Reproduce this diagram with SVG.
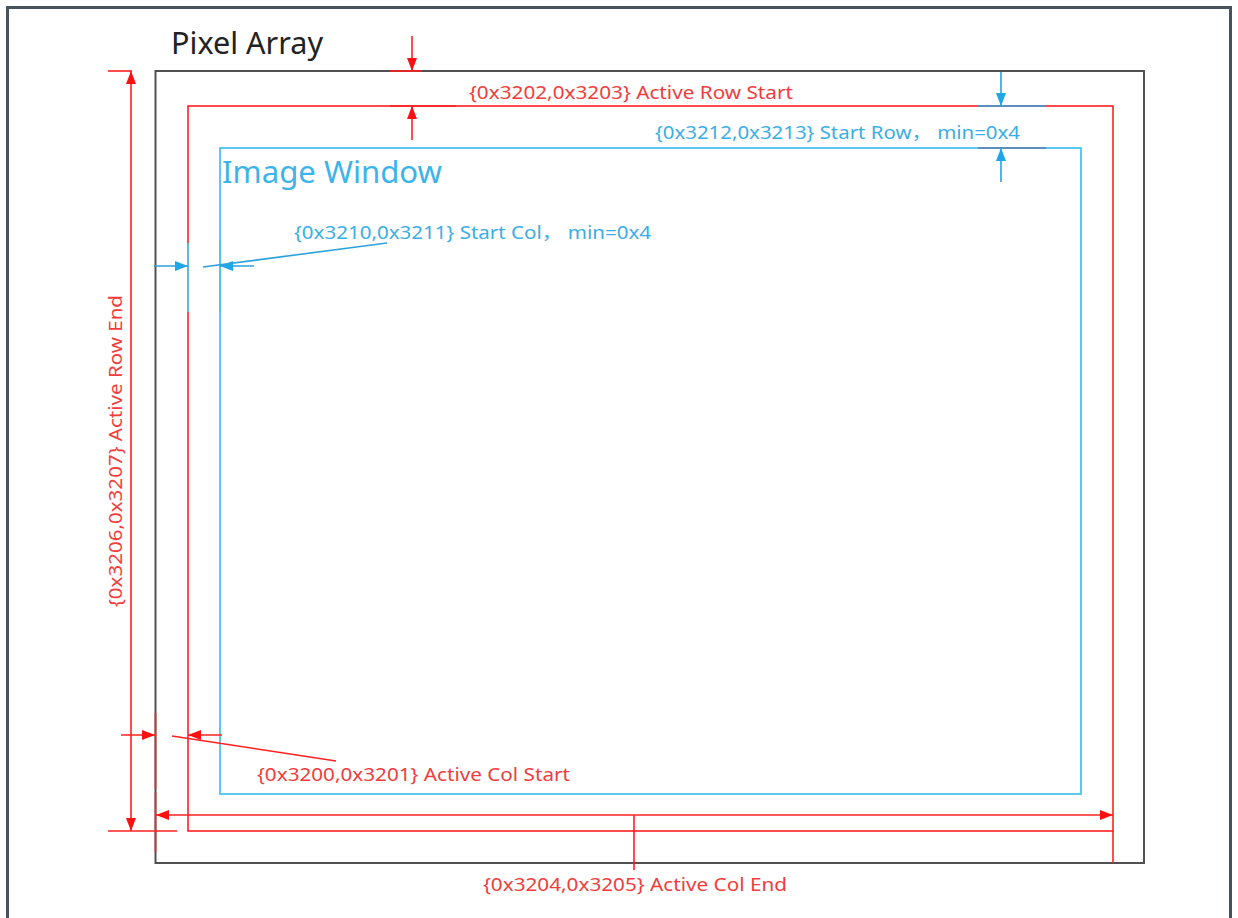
<svg xmlns="http://www.w3.org/2000/svg" width="1238" height="918" viewBox="0 0 1238 918">
<style>
.red{stroke:#ff2020;stroke-width:1.6;fill:none}
.blue{stroke:#4cc4f2;stroke-width:1.8;fill:none}
.bdim{stroke:#2ba2dc;stroke-width:1.6;fill:none}
.btick{stroke:#5b8fbd;stroke-width:2;fill:none}
.rt{fill:#f23c3c;font-family:"Noto Sans","Liberation Sans","Noto Sans CJK SC",sans-serif;font-size:18px}
.bt{fill:#3aaee6;font-family:"Noto Sans","Liberation Sans","Noto Sans CJK SC",sans-serif;font-size:18px}
</style>
<defs>
<marker id="ar" markerUnits="userSpaceOnUse" markerWidth="14" markerHeight="12" refX="13" refY="5" orient="auto-start-reverse" viewBox="0 0 14 10"><path d="M0,0 L13,5 L0,10 z" fill="#ff1010"/></marker>
<marker id="ab" markerUnits="userSpaceOnUse" markerWidth="14" markerHeight="12" refX="13" refY="5" orient="auto-start-reverse" viewBox="0 0 14 10"><path d="M0,0 L13,5 L0,10 z" fill="#1ea6e6"/></marker>
</defs>
<rect x="0" y="0" width="1238" height="918" fill="#ffffff"/>
<g id="frame"><rect x="7.5" y="7.5" width="1223" height="940" fill="none" stroke="#46525e" stroke-width="3"/></g>
<g id="pixel-array">
<rect x="155.5" y="71" width="988.5" height="792" fill="none" stroke="#505050" stroke-width="2"/>
<text x="171" y="54" font-family="'Noto Sans','Liberation Sans',sans-serif" font-size="30" fill="#222" textLength="152" lengthAdjust="spacingAndGlyphs">Pixel Array</text>
</g>
<g id="active-area">
<rect x="188" y="106" width="925" height="725" class="red"/>
</g>
<g id="image-window">
<rect x="220" y="148" width="861" height="646" class="blue"/>
<text x="222" y="183" font-family="'Noto Sans','Liberation Sans',sans-serif" font-size="30" fill="#3cb4ea" textLength="220" lengthAdjust="spacingAndGlyphs">Image Window</text>
</g>
<g id="connectors">
<!-- Active Row Start -->
<line x1="390" y1="71" x2="422" y2="71" class="red"/>
<line x1="390" y1="106" x2="456" y2="106" class="red" stroke-width="2"/>
<line x1="412" y1="36" x2="412" y2="71" class="red" marker-end="url(#ar)"/>
<line x1="412" y1="140" x2="412" y2="106" class="red" marker-end="url(#ar)"/>
<text class="rt" x="469" y="99" textLength="324" lengthAdjust="spacingAndGlyphs">{0x3202,0x3203} Active Row Start</text>
<!-- Start Row -->
<line x1="978" y1="106" x2="1046" y2="106" class="btick"/>
<line x1="978" y1="148" x2="1046" y2="148" class="btick"/>
<line x1="1001" y1="72" x2="1001" y2="106" class="bdim" marker-end="url(#ab)"/>
<line x1="1001" y1="182" x2="1001" y2="148" class="bdim" marker-end="url(#ab)"/>
<text class="bt" x="655" y="139" textLength="365" lengthAdjust="spacingAndGlyphs">{0x3212,0x3213} Start Row， min=0x4</text>
<!-- Start Col -->
<line x1="188" y1="243" x2="188" y2="312" class="blue"/>
<line x1="220" y1="240" x2="220" y2="312" class="blue"/>
<line x1="154" y1="266" x2="188" y2="266" class="bdim" marker-end="url(#ab)"/>
<line x1="254" y1="266" x2="220" y2="266" class="bdim" marker-end="url(#ab)"/>
<line x1="203" y1="267" x2="387" y2="243" class="bdim"/>
<text class="bt" x="294" y="239" textLength="357" lengthAdjust="spacingAndGlyphs">{0x3210,0x3211} Start Col， min=0x4</text>
<!-- Active Row End -->
<line x1="108" y1="71" x2="132" y2="71" class="red"/>
<line x1="108" y1="831" x2="177" y2="831" class="red"/>
<line x1="131" y1="71" x2="131" y2="831" class="red" marker-start="url(#ar)" marker-end="url(#ar)"/>
<text class="rt" transform="translate(122,607) rotate(-90)" x="0" y="0" textLength="312" lengthAdjust="spacingAndGlyphs">{0x3206,0x3207} Active Row End</text>
<!-- Active Col Start -->
<line x1="155.5" y1="713" x2="155.5" y2="789" class="red"/>
<line x1="121" y1="735" x2="155" y2="735" class="red" marker-end="url(#ar)"/>
<line x1="222" y1="735" x2="188" y2="735" class="red" marker-end="url(#ar)"/>
<line x1="172" y1="736" x2="336" y2="761" class="red"/>
<text class="rt" x="257" y="781" textLength="313" lengthAdjust="spacingAndGlyphs">{0x3200,0x3201} Active Col Start</text>
<!-- Active Col End -->
<line x1="155.5" y1="792" x2="155.5" y2="852" class="red"/>
<line x1="1113" y1="831" x2="1113" y2="863" class="red"/>
<line x1="156" y1="815" x2="1113" y2="815" class="red" marker-start="url(#ar)" marker-end="url(#ar)"/>
<line x1="634" y1="815" x2="634" y2="870" class="red"/>
<text class="rt" x="483" y="891" textLength="304" lengthAdjust="spacingAndGlyphs">{0x3204,0x3205} Active Col End</text>
</g>
</svg>
